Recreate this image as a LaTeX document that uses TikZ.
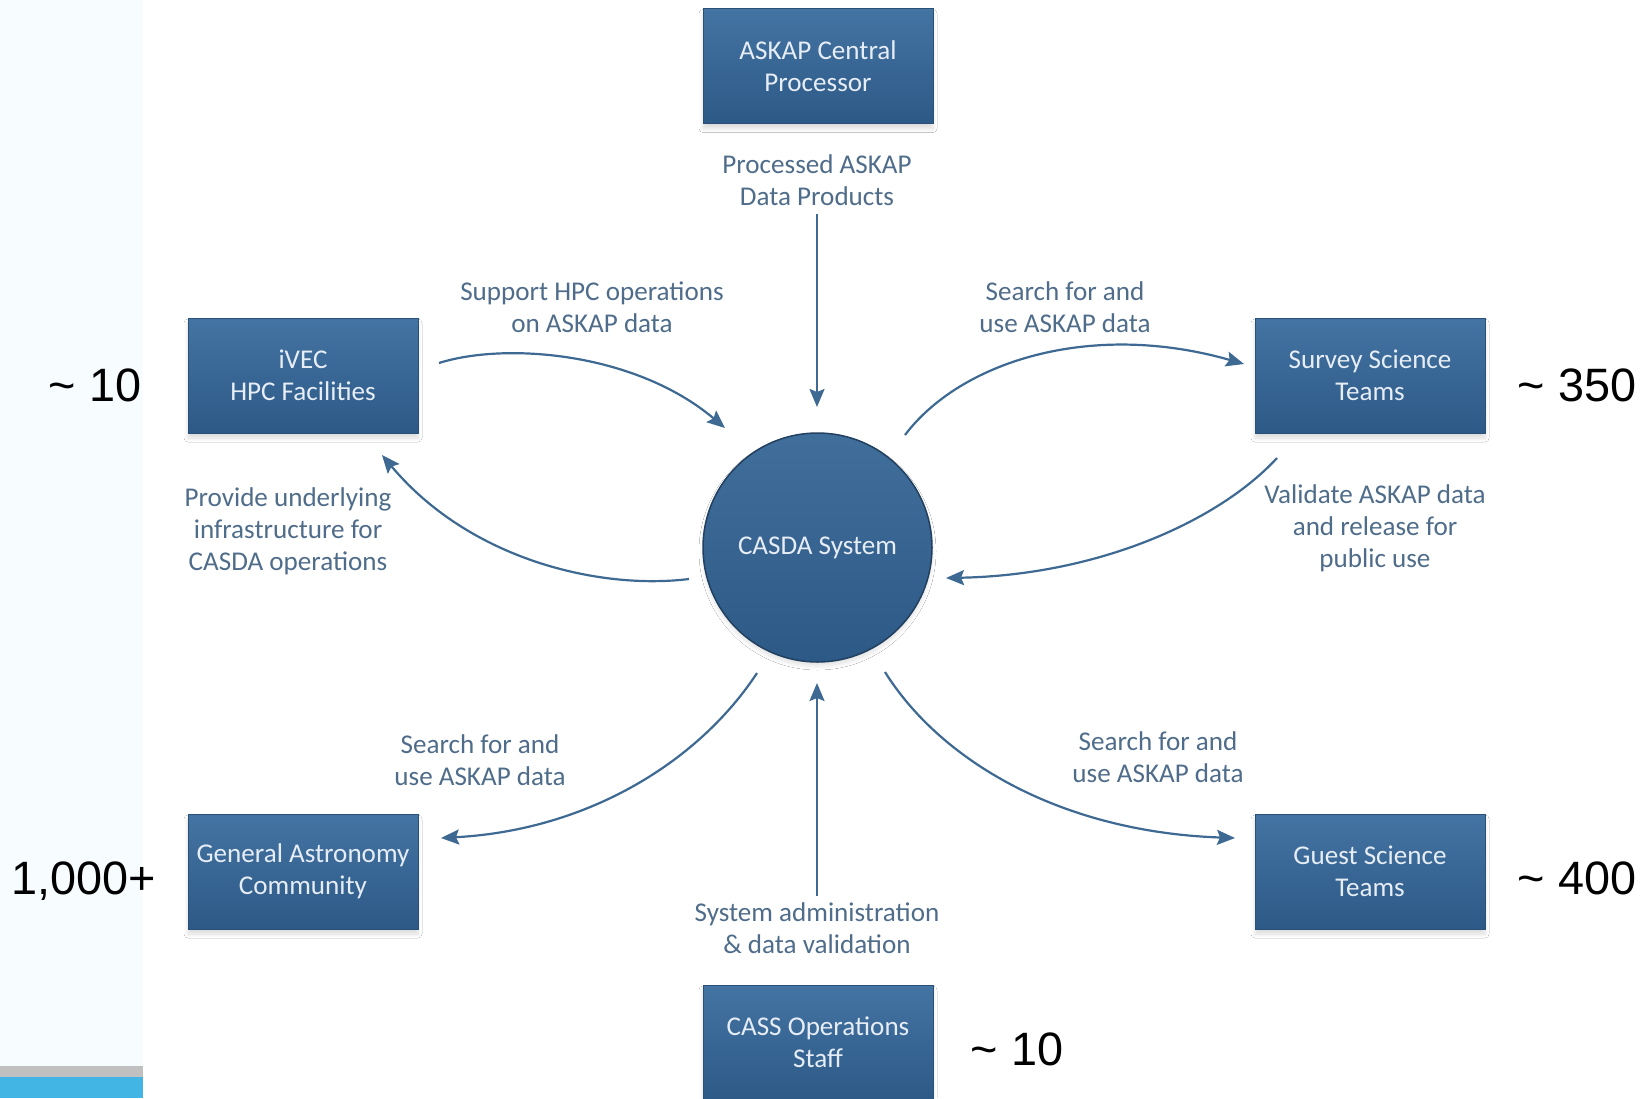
\documentclass[tikz,border=0pt]{standalone}
\usepackage{fontspec}
\setmainfont{Carlito}
\newfontfamily\numfont{Liberation Sans}
\usetikzlibrary{arrows.meta,shadows.blur}
\definecolor{boxtop}{HTML}{4474A3}
\definecolor{boxbot}{HTML}{2D5986}
\definecolor{boxedge}{HTML}{2A5077}
\definecolor{boxtext}{HTML}{E6EDF5}
\definecolor{labeltext}{HTML}{4F6D8A}
\definecolor{arrowcol}{HTML}{3D6993}
\definecolor{stripbg}{HTML}{F7FCFF}
\definecolor{stripgray}{HTML}{C0C0C0}
\definecolor{stripblue}{HTML}{42B5E5}
\tikzset{
  entity/.style={rectangle, minimum width=230bp, minimum height=115bp, inner sep=0pt,
    top color=boxtop, bottom color=boxbot, draw=boxedge, line width=1bp,
    text=boxtext, align=center, font=\fontsize{27.2}{32}\selectfont,
    blur shadow={shadow xshift=0bp, shadow yshift=-5bp, shadow blur radius=4bp, shadow blur steps=8, shadow opacity=14}},
  hub/.style={circle, minimum size=229bp, inner sep=0pt,
    top color=boxtop!95!black, bottom color=boxbot, draw=boxedge!80!black, line width=1.5bp,
    text=boxtext, font=\fontsize{27.2}{32}\selectfont,
    blur shadow={shadow xshift=0bp, shadow yshift=-4bp, shadow blur radius=4bp, shadow blur steps=8, shadow opacity=12}},
  flowlabel/.style={text=labeltext, align=center, font=\fontsize{27.2}{32}\selectfont, inner sep=0pt},
  count/.style={font=\numfont\fontsize{47}{50}\selectfont, text=black, inner sep=0pt,
    text height=33.7bp, text depth=0bp},
  flow/.style={draw=arrowcol, line width=2.2bp, -{Stealth[length=18bp,width=15bp,inset=3bp]}},
}
\begin{document}
\begin{tikzpicture}[x=1bp,y=-1bp]
\useasboundingbox (0,0) rectangle (1645,1098);
\fill[white] (0,0) rectangle (1645,1098);
\fill[stripbg] (0,0) rectangle (143,1066);
\fill[stripgray] (0,1066) rectangle (143,1077);
\fill[stripblue] (0,1077) rectangle (143,1098);

% nodes
\node[hub] (casda) at (817.5,547.5) {CASDA System};
\node[entity] (askap) at (818,66) {ASKAP Central\\Processor};
\node[entity] (ivec) at (303,375.5) {iVEC\\HPC Facilities};
\node[entity] (survey) at (1370,375.5) {Survey Science\\Teams};
\node[entity] (general) at (303,871.5) {General Astronomy\\Community};
\node[entity] (guest) at (1370,871.5) {Guest Science\\Teams};
\node[entity] (cass) at (818,1042.5) {CASS Operations\\Staff};

% labels
\node[flowlabel] (lproc) at (817,180) {Processed ASKAP\\Data Products};
\node[flowlabel] (lhpc) at (592,307) {Support HPC operations\\on ASKAP data};
\node[flowlabel] (lsurvey) at (1065,307) {Search for and\\use ASKAP data};
\node[flowlabel] (linfra) at (288,531) {Provide underlying\\infrastructure for\\CASDA operations};
\node[flowlabel] (lvalid) at (1375,528) {Validate ASKAP data\\and release for\\public use};
\node[flowlabel] (lgeneral) at (480,760) {Search for and\\use ASKAP data};
\node[flowlabel] (lguest) at (1158,757) {Search for and\\use ASKAP data};
\node[flowlabel] (ladmin) at (817,928) {System administration\\\& data validation};

% counts
\node[count] (n1) at (95,385) {\textasciitilde{} 10};
\node[count] (n2) at (1577,385) {\textasciitilde{} 350};
\node[count] (n3) at (84,878) {1,000+};
\node[count] (n4) at (1577,878) {\textasciitilde{} 400};
\node[count] (n5) at (1017,1049) {\textasciitilde{} 10};

% connector end points
\coordinate (a1s) at (817,214);  \coordinate (a1e) at (817,407);
\coordinate (a2s) at (439,363);  \coordinate (a2e) at (725,428);
\coordinate (a3s) at (689,579);  \coordinate (a3e) at (382,455);
\coordinate (a4s) at (905,435);  \coordinate (a4e) at (1244,364);
\coordinate (a5s) at (1277,458); \coordinate (a5e) at (946,578);
\coordinate (a6s) at (757,673);  \coordinate (a6e) at (441,838);
\coordinate (a7s) at (885,672);  \coordinate (a7e) at (1235,838);
\coordinate (a8s) at (817,896);  \coordinate (a8e) at (817,683);

\draw[flow] (a1s) -- (a1e);
\draw[flow] (a2s) .. controls (505,342) and (635,352) .. (a2e);
\draw[flow] (a3s) .. controls (600,590) and (470,560) .. (a3e);
\draw[flow] (a4s) .. controls (960,362) and (1090,320) .. (a4e);
\draw[flow] (a5s) .. controls (1220,520) and (1100,575) .. (a5e);
\draw[flow] (a6s) .. controls (700,760) and (590,830) .. (a6e);
\draw[flow] (a7s) .. controls (940,760) and (1060,832) .. (a7e);
\draw[flow] (a8s) -- (a8e);
\end{tikzpicture}
\end{document}
